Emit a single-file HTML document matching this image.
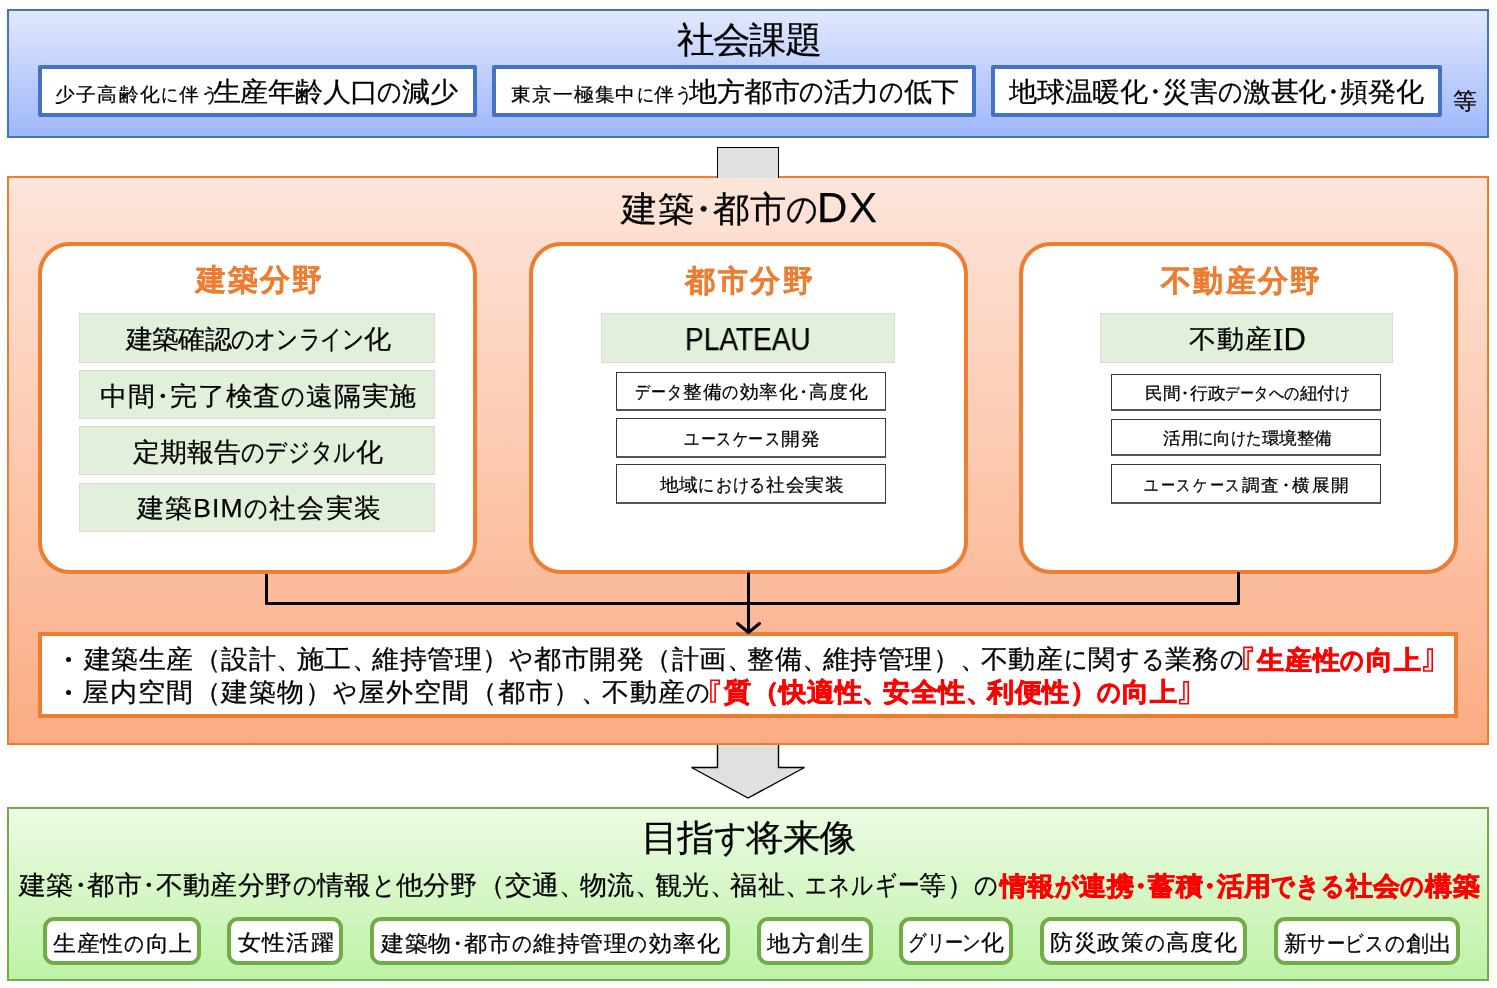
<!DOCTYPE html>
<html lang="ja"><head><meta charset="utf-8"><title>建築・都市のDX</title>
<style>
*{margin:0;padding:0;box-sizing:border-box}
html,body{width:1497px;height:988px;background:#fff;overflow:hidden}
body{position:relative;font-family:"Liberation Sans",sans-serif;color:#000}
.a{position:absolute}
.t{position:absolute;white-space:nowrap;will-change:transform;transform-origin:0 0}
.k,.kk{display:inline-block;transform-origin:0 0}.k{transform:scaleX(0.86);margin-right:-0.14em}.kk{transform:scaleX(0.8);margin-right:-0.2em}.d{margin:0 -0.25em}.c{margin-right:-0.25em}.br{-webkit-text-stroke:0!important;font-weight:normal}
</style></head><body>
<div class="a" style="left:7px;top:9px;width:1482px;height:129px;border:2px solid #4472c4;background:linear-gradient(180deg,#e1e8fd,#9fb7fa)"></div>
<div class="a" style="left:7px;top:176px;width:1482px;height:569px;border:2px solid #ed7d31;background:linear-gradient(180deg,#fde5da,#fbac84)"></div>
<div class="a" style="left:7px;top:807px;width:1482px;height:174px;border:2px solid #70ad47;background:linear-gradient(180deg,#ebfbe4,#bff2a6)"></div>
<div class="a" style="left:38px;top:65px;width:439px;height:52px;border:4px solid #4472c4;border-radius:2px;background:#fff"></div>
<div class="a" style="left:492px;top:65px;width:484px;height:52px;border:4px solid #4472c4;border-radius:2px;background:#fff"></div>
<div class="a" style="left:991px;top:65px;width:451px;height:52px;border:4px solid #4472c4;border-radius:2px;background:#fff"></div>
<div class="a" style="left:717px;top:147px;width:62px;height:31px;border:1px solid #000;border-bottom:none;background:#e0e0e0"></div>
<div class="a" style="left:38px;top:242px;width:439px;height:332px;border:4px solid #ed7d31;border-radius:32px;background:#fff"></div>
<div class="a" style="left:529px;top:242px;width:439px;height:332px;border:4px solid #ed7d31;border-radius:32px;background:#fff"></div>
<div class="a" style="left:1019px;top:242px;width:439px;height:332px;border:4px solid #ed7d31;border-radius:32px;background:#fff"></div>
<div class="a" style="left:79px;top:313px;width:356px;height:50px;border:1px solid #d9dcd6;background:#e2efda"></div>
<div class="a" style="left:79px;top:370px;width:356px;height:49px;border:1px solid #d9dcd6;background:#e2efda"></div>
<div class="a" style="left:79px;top:426px;width:356px;height:49px;border:1px solid #d9dcd6;background:#e2efda"></div>
<div class="a" style="left:79px;top:483px;width:356px;height:49px;border:1px solid #d9dcd6;background:#e2efda"></div>
<div class="a" style="left:601px;top:313px;width:294px;height:50px;border:1px solid #d9dcd6;background:#e2efda"></div>
<div class="a" style="left:1100px;top:313px;width:293px;height:50px;border:1px solid #d9dcd6;background:#e2efda"></div>
<div class="a" style="left:616px;top:372px;width:270px;height:39px;border:1px solid #3a3a3a;border-bottom-width:2px;border-bottom-color:#555;background:#fff"></div>
<div class="a" style="left:616px;top:418px;width:270px;height:40px;border:1px solid #3a3a3a;border-bottom-width:2px;border-bottom-color:#555;background:#fff"></div>
<div class="a" style="left:616px;top:464px;width:270px;height:40px;border:1px solid #3a3a3a;border-bottom-width:2px;border-bottom-color:#555;background:#fff"></div>
<div class="a" style="left:1111px;top:374px;width:270px;height:37px;border:1px solid #3a3a3a;border-bottom-width:2px;border-bottom-color:#555;background:#fff"></div>
<div class="a" style="left:1111px;top:419px;width:270px;height:37px;border:1px solid #3a3a3a;border-bottom-width:2px;border-bottom-color:#555;background:#fff"></div>
<div class="a" style="left:1111px;top:464px;width:270px;height:40px;border:1px solid #3a3a3a;border-bottom-width:2px;border-bottom-color:#555;background:#fff"></div>
<div class="a" style="left:38px;top:632px;width:1420px;height:86px;border:4px solid #ed7d31;background:#fff"></div>
<svg class="a" style="left:0;top:0" width="1497" height="988" viewBox="0 0 1497 988">
<path d="M266.5 574 V603.5 H1238.5 V572" fill="none" stroke="#000" stroke-width="3" stroke-linejoin="round"/>
<path d="M748.5 572.5 V632" fill="none" stroke="#000" stroke-width="3"/>
<path d="M737.5 623.5 L748.5 632.5 L759.5 623.5" fill="none" stroke="#000" stroke-width="3" stroke-linecap="round" stroke-linejoin="round"/>
<path d="M717.5 745 V767.5 H691.5 L748 798 L804.5 767.5 H778.5 V745" fill="#e0e0e0" stroke="#000" stroke-width="1.4" stroke-linejoin="miter"/>
</svg>
<svg class="a" style="left:0;top:0" width="1497" height="988" viewBox="0 0 1497 988"><path d="M1243.90 647.40 H1252.30 V651.10 H1248.10 V669.10 H1243.90 Z" fill="none" stroke="#f00" stroke-width="1.6"/><path d="M1427.90 649.10 H1432.20 V671.00 H1423.80 V666.90 H1427.90 Z" fill="none" stroke="#f00" stroke-width="1.6"/><path d="M710.90 680.30 H719.30 V684.00 H715.10 V702.00 H710.90 Z" fill="none" stroke="#f00" stroke-width="1.6"/><path d="M1183.90 681.90 H1188.20 V703.80 H1179.80 V699.70 H1183.90 Z" fill="none" stroke="#f00" stroke-width="1.6"/></svg>
<div class="a" style="left:65.5px;top:657.1999999999999px;width:5.2px;height:5.2px;border-radius:50%;background:#000"></div>
<div class="a" style="left:65.5px;top:690.1999999999999px;width:5.2px;height:5.2px;border-radius:50%;background:#000"></div>
<div class="a" style="left:42.7px;top:916.5px;width:157.9px;height:48.7px;border:4px solid #70ad47;border-radius:11px;background:#fff"></div>
<div class="a" style="left:227.3px;top:916.5px;width:116.1px;height:48.7px;border:4px solid #70ad47;border-radius:11px;background:#fff"></div>
<div class="a" style="left:369.8px;top:916.5px;width:360.6px;height:48.7px;border:4px solid #70ad47;border-radius:11px;background:#fff"></div>
<div class="a" style="left:757.1px;top:916.5px;width:115.9px;height:48.7px;border:4px solid #70ad47;border-radius:11px;background:#fff"></div>
<div class="a" style="left:899.3px;top:916.5px;width:113.9px;height:48.7px;border:4px solid #70ad47;border-radius:11px;background:#fff"></div>
<div class="a" style="left:1040px;top:916.5px;width:206.8px;height:48.7px;border:4px solid #70ad47;border-radius:11px;background:#fff"></div>
<div class="a" style="left:1273.9px;top:916.5px;width:186.5px;height:48.7px;border:4px solid #70ad47;border-radius:11px;background:#fff"></div>
<div class="t" style="left:677.0px;top:23.0px;font-size:35.5px;line-height:35.5px;--ls:-1.282px;letter-spacing:-1.282px;color:#000;transform:scaleX(1.04);-webkit-text-stroke:0.25px #000;">社会課題</div>
<div class="t" style="left:55.0px;top:85.05px;font-size:19px;line-height:19px;--ls:1.374px;letter-spacing:1.374px;color:#000;transform:scaleX(1.04);-webkit-text-stroke:0.25px #000;">少子高齢化<span class="k">に</span>伴<span class="k">う</span></div>
<div class="t" style="left:213.0px;top:79.0px;font-size:26.5px;line-height:26.5px;--ls:-0.601px;letter-spacing:-0.601px;color:#000;transform:scaleX(1.04);-webkit-text-stroke:0.25px #000;">生産年齢人口<span class="k">の</span>減少</div>
<div class="t" style="left:511.0px;top:84.75px;font-size:19px;line-height:19px;--ls:1.082px;letter-spacing:1.082px;color:#000;transform:scaleX(1.04);-webkit-text-stroke:0.25px #000;">東京一極集中<span class="k">に</span>伴<span class="k">う</span></div>
<div class="t" style="left:689.0px;top:79.25px;font-size:26.5px;line-height:26.5px;--ls:-0.534px;letter-spacing:-0.534px;color:#000;transform:scaleX(1.04);-webkit-text-stroke:0.25px #000;">地方都市<span class="k">の</span>活力<span class="k">の</span>低下</div>
<div class="t" style="left:1009.0px;top:78.55px;font-size:26.5px;line-height:26.5px;--ls:-0.256px;letter-spacing:-0.256px;color:#000;transform:scaleX(1.04);-webkit-text-stroke:0.25px #000;">地球温暖化<span class="d">・</span>災害<span class="k">の</span>激甚化<span class="d">・</span>頻発化</div>
<div class="t" style="left:1453.0px;top:91.0px;font-size:22.5px;line-height:22.5px;--ls:0.0px;letter-spacing:0.0px;color:#000;transform:scaleX(1.04);-webkit-text-stroke:0.25px #000;">等</div>
<div class="t" style="left:621.0px;top:190.5px;font-size:35px;line-height:35px;--ls:0.269px;letter-spacing:0.269px;color:#000;transform:scaleX(1.04);-webkit-text-stroke:0.25px #000;">建築<span class="d">・</span>都市<span class="k">の</span></div>
<div class="t" style="left:817.4px;top:187.35px;font-size:42px;line-height:42px;--ls:1.6px;letter-spacing:1.6px;color:#000;-webkit-text-stroke:0.25px #000;">DX</div>
<div class="t" style="left:196.0px;top:265.25px;font-size:29.5px;line-height:29.5px;--ls:2.0px;letter-spacing:2.0px;color:#ed7d31;font-weight:bold;-webkit-text-stroke:0.3px #ed7d31;">建築分野</div>
<div class="t" style="left:685.0px;top:265.65px;font-size:29.5px;line-height:29.5px;--ls:2.667px;letter-spacing:2.667px;color:#ed7d31;font-weight:bold;-webkit-text-stroke:0.3px #ed7d31;">都市分野</div>
<div class="t" style="left:1161.0px;top:266.2px;font-size:29.5px;line-height:29.5px;--ls:2.25px;letter-spacing:2.25px;color:#ed7d31;font-weight:bold;-webkit-text-stroke:0.3px #ed7d31;">不動産分野</div>
<div class="t" style="left:125.6px;top:327.15px;font-size:25.5px;line-height:25.5px;--ls:-0.827px;letter-spacing:-0.827px;color:#000;transform:scaleX(1.04);-webkit-text-stroke:0.25px #000;">建築確認<span class="k">の</span><span class="kk">オ</span><span class="kk">ン</span><span class="kk">ラ</span><span class="kk">イ</span><span class="kk">ン</span>化</div>
<div class="t" style="left:99.5px;top:384.25px;font-size:25.5px;line-height:25.5px;--ls:0.682px;letter-spacing:0.682px;color:#000;transform:scaleX(1.04);-webkit-text-stroke:0.25px #000;">中間<span class="d">・</span>完了検査<span class="k">の</span>遠隔実施</div>
<div class="t" style="left:132.7px;top:439.9px;font-size:25.5px;line-height:25.5px;--ls:-0.096px;letter-spacing:-0.096px;color:#000;transform:scaleX(1.04);-webkit-text-stroke:0.25px #000;">定期報告<span class="k">の</span><span class="kk">デ</span><span class="kk">ジ</span><span class="kk">タ</span><span class="kk">ル</span>化</div>
<div class="t" style="left:136.5px;top:495.65px;font-size:25.5px;line-height:25.5px;--ls:1.068px;letter-spacing:1.068px;color:#000;transform:scaleX(1.04);-webkit-text-stroke:0.25px #000;">建築BIM<span class="k">の</span>社会実装</div>
<div class="t" style="left:685.3px;top:324.0px;font-size:31px;line-height:31px;--ls:0.0px;letter-spacing:0.0px;color:#000;transform:scaleX(0.9045);-webkit-text-stroke:0.25px #000;">PLATEAU</div>
<div class="t" style="left:634.5px;top:384.35px;font-size:17.5px;line-height:17.5px;--ls:0.921px;letter-spacing:0.921px;color:#000;transform:scaleX(1.04);-webkit-text-stroke:0.25px #000;"><span class="kk">デ</span><span class="kk">ー</span><span class="kk">タ</span>整備<span class="k">の</span>効率化<span class="d">・</span>高度化</div>
<div class="t" style="left:683.8px;top:431.1px;font-size:17.5px;line-height:17.5px;--ls:1.099px;letter-spacing:1.099px;color:#000;transform:scaleX(1.04);-webkit-text-stroke:0.25px #000;"><span class="kk">ユ</span><span class="kk">ー</span><span class="kk">ス</span><span class="kk">ケ</span><span class="kk">ー</span><span class="kk">ス</span>開発</div>
<div class="t" style="left:660.2px;top:476.8px;font-size:17.5px;line-height:17.5px;--ls:0.673px;letter-spacing:0.673px;color:#000;transform:scaleX(1.04);-webkit-text-stroke:0.25px #000;">地域<span class="k">に</span><span class="k">お</span><span class="k">け</span><span class="k">る</span>社会実装</div>
<div class="t" style="left:1188.7px;top:326.7px;font-size:25.5px;line-height:25.5px;--ls:1.058px;letter-spacing:1.058px;color:#000;transform:scaleX(1.04);-webkit-text-stroke:0.25px #000;">不動産</div>
<div class="t" style="left:1273.2px;top:324.0px;font-size:31px;line-height:31px;--ls:0.1px;letter-spacing:0.1px;color:#000;-webkit-text-stroke:0.25px #000;"><span style="font-family:'Liberation Serif',serif">I</span>D</div>
<div class="t" style="left:1144.7px;top:385.35px;font-size:16.5px;line-height:16.5px;--ls:0.128px;letter-spacing:0.128px;color:#000;transform:scaleX(1.04);-webkit-text-stroke:0.25px #000;">民間<span class="d">・</span>行政<span class="kk">デ</span><span class="kk">ー</span><span class="kk">タ</span><span class="k">へ</span><span class="k">の</span>紐付<span class="k">け</span></div>
<div class="t" style="left:1162.7px;top:430.1px;font-size:16.5px;line-height:16.5px;--ls:-0.064px;letter-spacing:-0.064px;color:#000;transform:scaleX(1.04);-webkit-text-stroke:0.25px #000;">活用<span class="k">に</span>向<span class="k">け</span><span class="k">た</span>環境整備</div>
<div class="t" style="left:1144.3px;top:476.5px;font-size:16.5px;line-height:16.5px;--ls:1.923px;letter-spacing:1.923px;color:#000;transform:scaleX(1.04);-webkit-text-stroke:0.25px #000;"><span class="kk">ユ</span><span class="kk">ー</span><span class="kk">ス</span><span class="kk">ケ</span><span class="kk">ー</span><span class="kk">ス</span>調査<span class="d">・</span>横展開</div>
<div class="t" style="left:83.8px;top:645.95px;font-size:26px;line-height:26px;--ls:0.394px;letter-spacing:0.394px;color:#000;transform:scaleX(1.04);-webkit-text-stroke:0.25px #000;">建築生産（設計<span class="c">、</span>施工<span class="c">、</span>維持管理）<span class="k">や</span>都市開発（計画<span class="c">、</span>整備<span class="c">、</span>維持管理）<span class="c">、</span>不動産<span class="k">に</span>関<span class="k">す</span><span class="k">る</span>業務<span class="k">の</span></div>
<div class="t" style="left:1257.4px;top:646.9px;font-size:26px;line-height:26px;--ls:0.827px;letter-spacing:0.827px;color:#ff0000;transform:scaleX(1.04);font-weight:bold;-webkit-text-stroke:0.7px #ff0000;">生産性<span class="k">の</span>向上</div>
<div class="t" style="left:81.8px;top:679.25px;font-size:26px;line-height:26px;--ls:0.817px;letter-spacing:0.817px;color:#000;transform:scaleX(1.04);-webkit-text-stroke:0.25px #000;">屋内空間（建築物）<span class="k">や</span>屋外空間（都市）<span class="c">、</span>不動産<span class="k">の</span></div>
<div class="t" style="left:724.1px;top:679.25px;font-size:26px;line-height:26px;--ls:0.583px;letter-spacing:0.583px;color:#ff0000;transform:scaleX(1.04);font-weight:bold;-webkit-text-stroke:0.7px #ff0000;">質（快適性<span class="c">、</span>安全性<span class="c">、</span>利便性）<span class="k">の</span>向上</div>
<div class="t" style="left:640.7px;top:820.25px;font-size:36px;line-height:36px;--ls:-0.981px;letter-spacing:-0.981px;color:#000;transform:scaleX(1.04);-webkit-text-stroke:0.25px #000;">目指<span class="k">す</span>将来像</div>
<div class="t" style="left:18.7px;top:873.4px;font-size:25.5px;line-height:25.5px;--ls:0.202px;letter-spacing:0.202px;color:#000;transform:scaleX(1.04);-webkit-text-stroke:0.25px #000;">建築<span class="d">・</span>都市<span class="d">・</span>不動産分野<span class="k">の</span>情報<span class="k">と</span>他分野（交通<span class="c">、</span>物流<span class="c">、</span>観光<span class="c">、</span>福祉<span class="c">、</span><span class="kk">エ</span><span class="kk">ネ</span><span class="kk">ル</span><span class="kk">ギ</span><span class="kk">ー</span>等）<span class="k">の</span></div>
<div class="t" style="left:1000.4px;top:874.2px;font-size:25.5px;line-height:25.5px;--ls:0.299px;letter-spacing:0.299px;color:#ff0000;transform:scaleX(1.04);font-weight:bold;-webkit-text-stroke:0.7px #ff0000;">情報<span class="k">が</span>連携<span class="d">・</span>蓄積<span class="d">・</span>活用<span class="k">で</span><span class="k">き</span><span class="k">る</span>社会<span class="k">の</span>構築</div>
<div class="t" style="left:52.7px;top:932.55px;font-size:22px;line-height:22px;--ls:0.769px;letter-spacing:0.769px;color:#000;transform:scaleX(1.04);-webkit-text-stroke:0.25px #000;">生産性<span class="k">の</span>向上</div>
<div class="t" style="left:238.0px;top:932.15px;font-size:22px;line-height:22px;--ls:1.282px;letter-spacing:1.282px;color:#000;transform:scaleX(1.04);-webkit-text-stroke:0.25px #000;">女性活躍</div>
<div class="t" style="left:381.0px;top:932.5px;font-size:22px;line-height:22px;--ls:0.762px;letter-spacing:0.762px;color:#000;transform:scaleX(1.04);-webkit-text-stroke:0.25px #000;">建築物<span class="d">・</span>都市<span class="k">の</span>維持管理<span class="k">の</span>効率化</div>
<div class="t" style="left:767.4px;top:932.5px;font-size:22px;line-height:22px;--ls:1.571px;letter-spacing:1.571px;color:#000;transform:scaleX(1.04);-webkit-text-stroke:0.25px #000;">地方創生</div>
<div class="t" style="left:908.0px;top:932.0px;font-size:22px;line-height:22px;--ls:-0.841px;letter-spacing:-0.841px;color:#000;transform:scaleX(1.04);-webkit-text-stroke:0.25px #000;"><span class="kk">グ</span><span class="kk">リ</span><span class="kk">ー</span><span class="kk">ン</span>化</div>
<div class="t" style="left:1050.2px;top:932.0px;font-size:22px;line-height:22px;--ls:0.783px;letter-spacing:0.783px;color:#000;transform:scaleX(1.04);-webkit-text-stroke:0.25px #000;">防災政策<span class="k">の</span>高度化</div>
<div class="t" style="left:1284.2px;top:932.5px;font-size:22px;line-height:22px;--ls:0.33px;letter-spacing:0.33px;color:#000;transform:scaleX(1.04);-webkit-text-stroke:0.25px #000;">新<span class="kk">サ</span><span class="kk">ー</span><span class="kk">ビ</span><span class="kk">ス</span><span class="k">の</span>創出</div>
</body></html>
